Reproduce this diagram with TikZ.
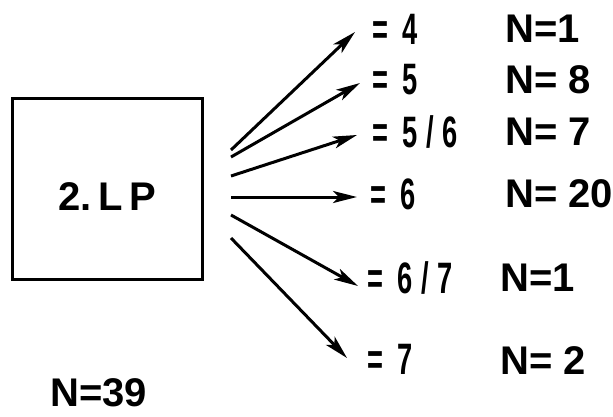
\documentclass[tikz,border=0pt]{standalone}
\usepackage{fontspec}
\setmainfont{Liberation Sans}
\newfontfamily\condfont[FakeStretch=0.62]{Liberation Sans}
\usetikzlibrary{arrows.meta,positioning}

\begin{document}
\begin{tikzpicture}[
  x=1pt, y=-1pt,
  font=\fontsize{40}{44}\selectfont\bfseries,
  lpbox/.style = {draw, line width=2.6pt, minimum width=190pt,
                  minimum height=181pt, inner sep=0pt},
  val/.style   = {anchor=west, inner sep=0pt,
                  font=\fontsize{44}{48}\selectfont\condfont\bfseries},
  cnt/.style   = {anchor=west, inner sep=0pt},
  arr/.style   = {-{Stealth[length=24pt,width=12pt,inset=6pt]},
                  line width=3pt}
]
\useasboundingbox (0,0) rectangle (613,416);
%% -- Box --
\node[lpbox, label={[yshift=-8pt]center:2.\,L\,P}] (lp) at (107.5,189) {};
%% -- Fan of arrows --
\foreach \i/\sy/\tx/\ty in {1/150/355/32, 2/157/360/83, 3/176/357/135,
                            4/197/357/197, 5/215/358/286, 6/238/347/358}{
  \coordinate (s\i) at (231,\sy);
  \coordinate (t\i) at (\tx,\ty);
  \draw[arr] (s\i) -- (t\i);}
%% -- Values --
\foreach \i/\x/\y/\lb in {1/372/29/{=\hspace{14pt}4}, 2/372/80/{=\hspace{14pt}5},
                          3/372/132/{=\hspace{14pt}5\hspace{9pt}/\hspace{9pt}6},
                          4/370/194/{=\hspace{14pt}6},
                          5/367/278/{=\hspace{14pt}6\hspace{9pt}/\hspace{9pt}7},
                          6/367/359/{=\hspace{14pt}7}}{
  \node[val] (v\i) at (\x,\y) {\lb};}
%% -- Counts --
\foreach \i/\x/\y/\lb in {1/505/29/{N=1}, 2/505/80/{N= 8}, 3/505/132/{N= 7},
                          4/505/194/{N= 20}, 5/500/278/{N=1}, 6/500/361/{N= 2}}{
  \node[cnt] (n\i) at (\x,\y) {\lb};}
\node[cnt] (tot) at (50,393) {N=39};
\end{tikzpicture}
\end{document}
